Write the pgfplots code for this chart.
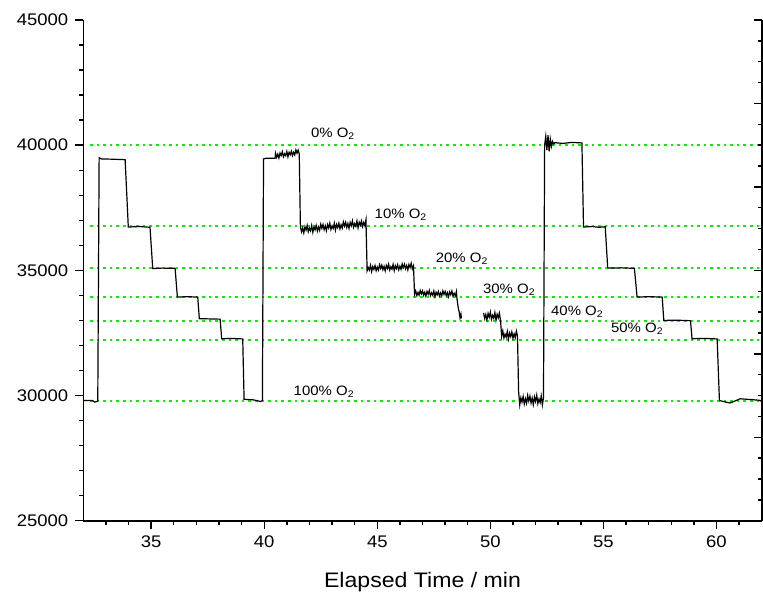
\documentclass[border=0pt]{standalone}
\usepackage{fontspec}
\setmainfont{Liberation Sans}[FakeStretch=1.1]
\usepackage{pgfplots}
\pgfplotsset{compat=1.18}
\definecolor{refgreen}{RGB}{20,230,20}
\pgfplotsset{
    frame/.style={
        scale only axis,
        width=339.2pt, height=250.35pt,
        axis line style={line width=0.8pt},
        major tick length=4pt, minor tick length=2pt,
        tick style={black, line width=0.7pt},
        tick label style={font=\fontsize{8.4}{10}\selectfont, /pgf/number format/assume math mode=true},
    },
}

\begin{document}
\begin{tikzpicture}
\begin{axis}[
    frame,
    name=main,
    clip=false,
    xmin=32, xmax=62, ymin=25000, ymax=45000,
    axis x line*=bottom, axis y line*=left,
    tick align=outside,
    xtick={35,40,...,60}, minor x tick num=4,
    ytick={25000,30000,...,45000}, minor y tick num=4,
    scaled y ticks=false,
    yticklabel style={/pgf/number format/1000 sep={}},
    xlabel={Elapsed Time / min},
    xlabel style={font=\fontsize{10.5}{12}\selectfont, at={(axis description cs:0.5,0)}, anchor=base, yshift=-33.6pt},
]
% tick marks on the left and bottom spines
\pgfplotsinvokeforeach{26000,27000,28000,29000,31000,32000,33000,34000,36000,37000,38000,39000,41000,42000,43000,44000}{\draw[black, line width=0.7pt] (axis cs:32,#1) -- ++(-2pt,0pt);}
\pgfplotsinvokeforeach{25000,30000,35000,40000,45000}{\draw[black, line width=0.7pt] (axis cs:32,#1) -- ++(-4pt,0pt);}
\pgfplotsinvokeforeach{33,34,36,37,38,39,41,42,43,44,46,47,48,49,51,52,53,54,56,57,58,59,61}{\draw[black, line width=0.7pt] (axis cs:#1,25000) -- ++(0pt,-2pt);}
\pgfplotsinvokeforeach{35,40,45,50,55,60}{\draw[black, line width=0.7pt] (axis cs:#1,25000) -- ++(0pt,-4pt);}

% reference levels
\addplot[refgreen, line width=1pt, dash pattern=on 1.3pt off 2pt] coordinates {(32.3,40000)(62,40000)};
\addplot[refgreen, line width=1pt, dash pattern=on 1.3pt off 2pt] coordinates {(32.3,36760)(62,36760)};
\addplot[refgreen, line width=1pt, dash pattern=on 1.3pt off 2pt] coordinates {(32.3,35090)(62,35090)};
\addplot[refgreen, line width=1pt, dash pattern=on 1.3pt off 2pt] coordinates {(32.3,33930)(62,33930)};
\addplot[refgreen, line width=1pt, dash pattern=on 1.3pt off 2pt] coordinates {(32.3,32970)(62,32970)};
\addplot[refgreen, line width=1pt, dash pattern=on 1.3pt off 2pt] coordinates {(32.3,32230)(62,32230)};
\addplot[refgreen, line width=1pt, dash pattern=on 1.3pt off 2pt] coordinates {(32.3,29800)(62,29800)};

% signal, first part
\addplot[black, line width=0.6pt] coordinates {
(32.00,29800)(32.40,29800)(32.50,29740)(32.60,29760)(32.64,29780)
(32.70,39500)(32.80,39450)(33.30,39440)(33.85,39420)
(33.99,36730)(34.50,36750)(34.95,36720)
(35.07,35070)(35.50,35090)(36.06,35080)
(36.16,33930)(36.60,33950)(37.06,33930)
(37.13,33070)(37.60,33060)(38.05,33050)
(38.12,32270)(38.60,32280)(39.05,32260)
(39.11,29850)(39.50,29830)(39.75,29780)(39.85,29760)(39.92,29800)
(39.97,39450)(40.10,39480)(40.48,39480)
(40.50,39676)(40.55,39515)(40.60,39641)(40.65,39488)(40.70,39686)(40.75,39581)
(40.80,39739)(40.85,39538)(40.90,39656)(40.95,39575)(41.00,39749)(41.05,39532)
(41.10,39714)(41.15,39617)(41.20,39759)(41.25,39582)(41.30,39716)(41.35,39611)
(41.40,39809)(41.45,39680)(41.50,39806)(41.55,39645)
(41.60,36740)(41.65,36535)(41.70,36689)(41.75,36494)(41.80,36738)(41.85,36603)
(41.90,36797)(41.95,36542)(42.00,36686)(42.05,36581)(42.10,36795)(42.15,36520)
(42.20,36744)(42.25,36619)(42.30,36793)(42.35,36568)(42.40,36732)(42.45,36597)
(42.50,36841)(42.55,36676)(42.60,36830)(42.65,36625)(42.70,36779)(42.75,36584)
(42.80,36828)(42.85,36693)(42.90,36887)(42.95,36632)(43.00,36776)(43.05,36671)
(43.10,36885)(43.15,36610)(43.20,36834)(43.25,36709)(43.30,36883)(43.35,36658)
(43.40,36822)(43.45,36687)(43.50,36931)(43.55,36766)(43.60,36920)(43.65,36715)
(43.70,36869)(43.75,36674)(43.80,36918)(43.85,36783)(43.90,36977)(43.95,36722)
(44.00,36866)(44.05,36761)(44.10,36975)(44.15,36700)(44.20,36924)(44.25,36799)
(44.30,36973)(44.35,36748)(44.40,36912)(44.45,36777)(44.50,37021)
(44.55,34981)(44.60,35109)(44.65,35011)(44.70,35202)(44.75,34952)(44.80,35152)
(44.85,35036)(44.90,35191)(44.95,34986)(45.00,35131)(45.05,35007)(45.10,35225)
(45.15,35073)(45.20,35210)(45.25,35023)(45.30,35160)(45.35,34981)(45.40,35199)
(45.45,35075)(45.50,35247)(45.55,35015)(45.60,35143)(45.65,35045)(45.70,35236)
(45.75,34986)(45.80,35186)(45.85,35070)(45.90,35225)(45.95,35020)(46.00,35165)
(46.05,35041)(46.10,35259)(46.15,35107)(46.20,35244)(46.25,35057)(46.30,35194)
(46.35,35015)(46.40,35233)(46.45,35109)(46.50,35281)(46.55,35049)(46.60,35177)
(46.65,34042)(46.70,34177)(46.75,33992)(46.80,34119)(46.85,34006)(46.90,34197)
(46.95,34060)(47.00,34179)(47.05,34010)(47.10,34129)(47.15,33968)(47.20,34159)
(47.25,34046)(47.30,34197)(47.35,33988)(47.40,34099)(47.45,34010)(47.50,34177)
(47.55,33952)(47.60,34127)(47.65,34022)(47.70,34157)(47.75,33972)(47.80,34099)
(47.85,33986)(47.90,34177)(47.95,34040)(48.00,34159)(48.05,33990)(48.10,34109)
(48.15,33948)(48.20,34139)(48.25,34026)(48.30,34177)(48.35,33968)(48.40,34079)
(48.45,33990)(48.50,34157)
(48.52,33900)(48.58,33500)(48.62,33350)(48.66,33100)(48.70,33250)(48.72,33080)
};

% signal, after the gap
\addplot[black, line width=0.6pt] coordinates {
(49.70,33302)(49.75,33071)(49.80,33236)(49.85,33016)(49.90,33280)(49.95,33126)
(50.00,33335)(50.05,33049)(50.10,33203)(50.15,33082)(50.20,33313)(50.25,33005)
(50.30,33247)(50.35,33104)(50.40,33291)(50.45,33000)
(50.50,32376)(50.55,32585)(50.60,32299)(50.65,32453)(50.70,32332)(50.75,32563)
(50.80,32255)(50.85,32497)(50.90,32354)(50.95,32541)(51.00,32288)(51.05,32464)
(51.10,32310)(51.15,32574)(51.20,32387)
(51.25,30150)(51.30,29625)(51.35,29911)(51.40,29742)(51.45,29963)(51.50,29664)
(51.55,29872)(51.60,29690)(51.65,30002)(51.70,29781)(51.75,29976)(51.80,29703)
(51.85,29898)(51.90,29638)(51.95,29950)(52.00,29768)(52.05,30015)(52.10,29677)
(52.15,29859)(52.20,29716)(52.25,29989)(52.30,29625)(52.35,29911)
(52.40,40000)(52.45,40350)(52.50,39800)(52.55,40400)(52.60,39750)(52.65,40250)
(52.70,39950)(52.75,40150)(52.80,40050)(52.85,40100)
(53.20,40070)(53.60,40110)(54.05,40090)
(54.12,36730)(54.50,36750)(54.80,36720)(55.08,36740)
(55.19,35090)(55.80,35100)(56.37,35080)
(56.49,33930)(57.00,33950)(57.60,33930)
(57.67,33000)(58.20,33010)(58.85,32990)
(58.92,32270)(59.50,32280)(60.03,32260)
(60.13,29800)(60.60,29700)(61.05,29870)(61.50,29840)(61.90,29810)(62.00,29770)
};

\node[font=\fontsize{6.8}{8}\selectfont] at (axis cs:43.05,40440) {0\% O\textsubscript{2}};
\node[font=\fontsize{6.8}{8}\selectfont] at (axis cs:46.05,37240) {10\% O\textsubscript{2}};
\node[font=\fontsize{6.8}{8}\selectfont] at (axis cs:48.75,35480) {20\% O\textsubscript{2}};
\node[font=\fontsize{6.8}{8}\selectfont] at (axis cs:50.84,34240) {30\% O\textsubscript{2}};
\node[font=\fontsize{6.8}{8}\selectfont] at (axis cs:53.85,33360) {40\% O\textsubscript{2}};
\node[font=\fontsize{6.8}{8}\selectfont] at (axis cs:56.50,32680) {50\% O\textsubscript{2}};
\node[font=\fontsize{6.8}{8}\selectfont] at (axis cs:42.65,30160) {100\% O\textsubscript{2}};
\end{axis}

% right-hand spine with its own inward ticks
\begin{axis}[
    frame,
    xmin=0, xmax=1, ymin=0, ymax=6,
    axis x line=none, axis y line*=right,
    tick align=inside,
    ytick={0,1,...,6}, minor y tick num=3,
    yticklabels={},
]
\addplot[draw=none] coordinates {(0,0)(1,6)};
\end{axis}

\pgfresetboundingbox
\path ([xshift=-41.65pt,yshift=-36.15pt]main.south west) rectangle ([xshift=0.65pt,yshift=10pt]main.north east);
\end{tikzpicture}
\end{document}
